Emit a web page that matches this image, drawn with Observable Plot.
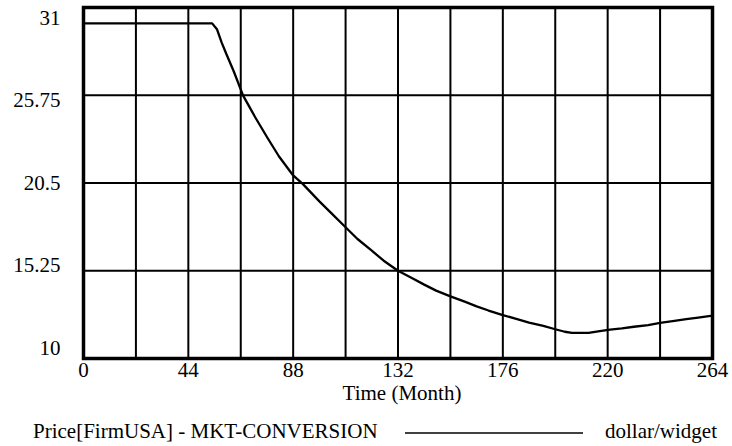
<!DOCTYPE html>
<html>
<head>
<meta charset="utf-8">
<script src="https://cdn.jsdelivr.net/npm/d3@7"></script>
<script src="https://cdn.jsdelivr.net/npm/@observablehq/plot@0.6"></script>
<style>
  html, body { margin: 0; padding: 0; background: #fff; }
  body { width: 732px; height: 446px; overflow: hidden; font-family: "Liberation Serif", "Times New Roman", serif; }
  #legend { display: block; }
</style>
</head>
<body>
<div id="chart"></div>
<svg id="legend" width="732" height="38"></svg>
<script>
// Time (Month)
const months = [0, 54, 56, 58, 60, 63, 67, 72, 77, 82, 88, 92, 99, 104, 110, 115, 121, 126, 132, 138, 143, 148, 154, 160, 165, 170, 176, 182, 187, 193, 198, 202, 205, 212, 216, 221, 226, 231, 237, 242, 248, 253, 258, 264];
// Price[FirmUSA] - MKT-CONVERSION (dollar/widget)
const price = [30.05, 30.05, 29.7, 28.9, 28.2, 27.2, 25.73, 24.45, 23.25, 22.1, 20.95, 20.45, 19.4, 18.7, 17.85, 17.15, 16.45, 15.85, 15.25, 14.8, 14.42, 14.06, 13.72, 13.4, 13.12, 12.87, 12.6, 12.35, 12.15, 11.95, 11.75, 11.6, 11.53, 11.53, 11.62, 11.73, 11.8, 11.9, 12.0, 12.13, 12.25, 12.35, 12.45, 12.57];

const xTicks = [0, 44, 88, 132, 176, 220, 264];
const xGrid = [22, 44, 66, 88, 110, 132, 154, 176, 198, 220, 242];
const yTicks = [31, 25.75, 20.5, 15.25, 10];
const yGrid = [15.25, 20.5, 25.75];

const seriesName = "Price[FirmUSA] - MKT-CONVERSION";
const unitName = "dollar/widget";
const xLabel = "Time (Month)";

const data = months.map((m, i) => ({month: m, price: price[i]}));
const FS = 21;
const FONT = "'Liberation Serif', 'Times New Roman', serif";

const yAxes = yTicks.map((v, i) => Plot.axisY([v], {
  tickSize: 0, tickPadding: 23, fontSize: FS, label: null,
  tickFormat: d => String(d),
  dy: (2 - i) * 5.25
}));

const chart = Plot.plot({
  width: 732,
  height: 408,
  marginLeft: 83,
  marginRight: 20,
  marginTop: 7,
  marginBottom: 50,
  style: { fontFamily: FONT, fontSize: FS + "px", color: "black", background: "white" },
  x: { domain: [0, 264] },
  y: { domain: [10, 31] },
  marks: [
    Plot.ruleX(xGrid, { stroke: "black", strokeWidth: 2 }),
    Plot.ruleY(yGrid, { stroke: "black", strokeWidth: 2 }),
    Plot.line(data, { x: "month", y: "price", stroke: "black", strokeWidth: 2.3 }),
    Plot.frame({ stroke: "black", strokeWidth: 3.5 }),
    Plot.axisX(xTicks, { tickSize: 0, tickPadding: 4, fontSize: FS, label: null, tickFormat: d => String(d) }),
    ...yAxes,
    Plot.text([xLabel], { frameAnchor: "bottom", lineAnchor: "bottom", dy: 41, dx: 4, fontSize: FS })
  ]
});
document.getElementById("chart").appendChild(chart);

// Legend below the chart
const lg = d3.select("#legend").style("font-family", FONT).style("font-size", FS + "px");
lg.append("text").attr("x", 33).attr("y", 30).attr("fill", "black").text(seriesName);
lg.append("line").attr("x1", 405).attr("x2", 583).attr("y1", 25).attr("y2", 25).attr("stroke", "black").attr("stroke-width", 1.5);
lg.append("text").attr("x", 605).attr("y", 30).attr("fill", "black").text(unitName);
</script>
</body>
</html>
